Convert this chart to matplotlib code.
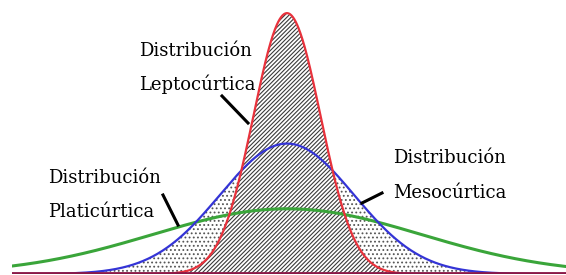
import numpy as np
import matplotlib.pyplot as plt
from matplotlib.lines import Line2D

# Parametros de las distribuciones (media, desviacion)
nombres = ["Leptocúrtica", "Mesocúrtica", "Platicúrtica"]
medias = [0.0, 0.0, 0.0]
sigmas = [0.5, 1.0, 2.0]
colores = ["#e8323c", "#3434d6", "#3aa53a"]

W, H = 566, 275
fig = plt.figure(figsize=(W / 100, H / 100), dpi=100)
ax = fig.add_axes([12 / W, 1 / H, 554 / W, 274 / H])
ax.set_xlim(-4.10, 4.16)
ax.set_ylim(0, 0.838)
ax.axis("off")

plt.rcParams["hatch.linewidth"] = 0.8

x = np.linspace(-4.10, 4.16, 800)
curvas = [np.exp(-0.5 * ((x - m) / s) ** 2) / (s * np.sqrt(2 * np.pi)) for m, s in zip(medias, sigmas)]

# relleno: mesocurtica punteada, leptocurtica rayada
ax.fill_between(x, 0, curvas[1], facecolor="white", edgecolor="#555555", hatch="....", linewidth=0)
ax.fill_between(x, 0, curvas[0], facecolor="white", edgecolor="#3a3a3a", hatch="////////", linewidth=0)

ax.plot(x, curvas[2], color=colores[2], lw=2.2, zorder=3)
ax.plot(x, curvas[1], color=colores[1], lw=1.6, zorder=4)
ax.plot(x, curvas[0], color=colores[0], lw=1.6, zorder=5)
ax.axhline(0.004, color="#8b1846", lw=2, zorder=6)


def px(xp, yp):
    return xp / W, 1 - yp / H


etiquetas = [
    (139, 56, 90, "Leptocúrtica", (222, 96), (248, 123)),
    (48, 183, 217, "Platicúrtica", (163, 195), (178, 225)),
    (393, 163, 198, "Mesocúrtica", (362, 203), (382, 193)),
]
for xt, y1, y2, nombre, p0, p1 in etiquetas:
    fig.text(*px(xt, y1), "Distribución", family="DejaVu Serif", fontsize=13, va="baseline")
    fig.text(*px(xt, y2), nombre, family="DejaVu Serif", fontsize=13, va="baseline")
    a, b = px(*p0), px(*p1)
    fig.add_artist(Line2D([a[0], b[0]], [a[1], b[1]], color="black", lw=2.2, transform=fig.transFigure))

plt.savefig("out.png", dpi=100)
